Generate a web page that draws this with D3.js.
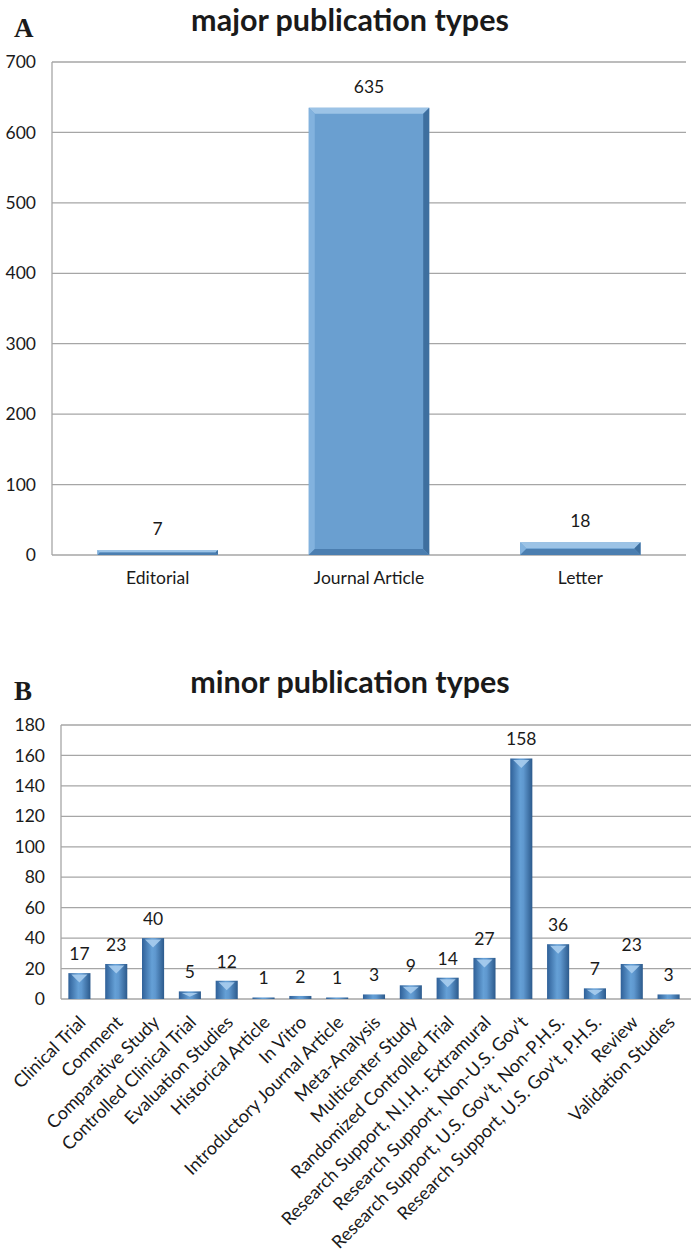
<!DOCTYPE html>
<html>
<head>
<meta charset="utf-8">
<script src="https://cdn.jsdelivr.net/npm/d3@7"></script>
<style>
  body { margin: 0; background: #fff; }
  svg text { font-family: Lato, "Open Sans", sans-serif; fill: #1a1a1a; }
  .panel-letter { font-family: "Liberation Serif", "DejaVu Serif", serif; font-weight: bold; }
  .title { font-weight: bold; }
</style>
</head>
<body>
<div id="vis"></div>
<script>
// panel A data
const majorTypes = ["Editorial", "Journal Article", "Letter"];
const majorCounts = [7, 635, 18];
const majorTicks = [0, 100, 200, 300, 400, 500, 600, 700];

// panel B data
const minorTypes = [
    "Clinical Trial", "Comment", "Comparative Study", "Controlled Clinical Trial",
    "Evaluation Studies", "Historical Article", "In Vitro", "Introductory Journal Article",
    "Meta-Analysis", "Multicenter Study", "Randomized Controlled Trial",
    "Research Support, N.I.H., Extramural", "Research Support, Non-U.S. Gov't",
    "Research Support, U.S. Gov't, Non-P.H.S.", "Research Support, U.S. Gov't, P.H.S.",
    "Review", "Validation Studies"
];
const minorCounts = [17, 23, 40, 5, 12, 1, 2, 1, 3, 9, 14, 27, 158, 36, 7, 23, 3];
const minorTicks = [0, 20, 40, 60, 80, 100, 120, 140, 160, 180];

const W = 691, H = 1257;
const svg = d3.select("#vis").append("svg").attr("width", W).attr("height", H);

const defs = svg.append("defs");
const cyl = defs.append("linearGradient").attr("id", "cyl").attr("x1", 0).attr("x2", 1).attr("y1", 0).attr("y2", 0);
cyl.append("stop").attr("offset", "0%").attr("stop-color", "#2f6098");
cyl.append("stop").attr("offset", "45%").attr("stop-color", "#65a0d6");
cyl.append("stop").attr("offset", "60%").attr("stop-color", "#5f98cf");
cyl.append("stop").attr("offset", "100%").attr("stop-color", "#2c5a8c");

function drawAxes(g, y, ticks, x0, x1) {
    g.selectAll(".grid")
        .data(ticks)
        .join("line")
        .attr("class", "grid")
        .attr("x1", x0).attr("x2", x1)
        .attr("y1", d => y(d)).attr("y2", d => y(d))
        .attr("stroke", "#a6a6a6").attr("stroke-width", 1.3);
    g.append("line")
        .attr("x1", x0).attr("x2", x0)
        .attr("y1", y(ticks[ticks.length - 1])).attr("y2", y(0))
        .attr("stroke", "#a6a6a6").attr("stroke-width", 1.3);
    g.selectAll(".tick-label")
        .data(ticks)
        .join("text")
        .attr("class", "tick-label")
        .attr("x", x0 - 16)
        .attr("y", d => y(d))
        .attr("dy", "0.35em")
        .attr("text-anchor", "end")
        .style("font-size", "17.5px")
        .text(d => d);
}

// ---------- Panel A ----------
{
    const g = svg.append("g");
    const x = d3.scaleBand().domain(majorTypes).range([52, 686]).paddingInner(0.43).paddingOuter(0.215);
    const y = d3.scaleLinear().domain([0, 700]).range([555, 62]);
    const data = majorTypes.map((t, i) => ({ t, v: majorCounts[i] }));

    g.append("text").attr("class", "panel-letter").attr("x", 14).attr("y", 37).style("font-size", "27px").text("A");
    g.append("text").attr("class", "title").attr("x", 350).attr("y", 31).attr("text-anchor", "middle")
        .style("font-size", "30.5px").text("major publication types");

    drawAxes(g, y, majorTicks, 52, 686);

    const bars = g.selectAll(".bar").data(data).join("g").attr("class", "bar");
    bars.append("rect")
        .attr("x", d => x(d.t)).attr("y", d => y(d.v))
        .attr("width", x.bandwidth()).attr("height", d => y(0) - y(d.v))
        .attr("fill", "#6a9fd0");
    // bevel edges
    bars.each(function (d) {
        const b = d3.select(this);
        const x0 = x(d.t), x1 = x0 + x.bandwidth(), y0 = y(d.v), y1 = y(0);
        const e = Math.min(6, (y1 - y0) / 2);
        b.append("polygon").attr("points", [[x0, y0], [x1, y0], [x1 - e, y0 + e], [x0 + e, y0 + e]].join(" "))
            .attr("fill", "#9cc3e6");
        b.append("polygon").attr("points", [[x0, y0], [x0 + e, y0 + e], [x0 + e, y1 - e], [x0, y1]].join(" "))
            .attr("fill", "#82b2de");
        b.append("polygon").attr("points", [[x1, y0], [x1, y1], [x1 - e, y1 - e], [x1 - e, y0 + e]].join(" "))
            .attr("fill", "#3e6f9f");
        b.append("polygon").attr("points", [[x0, y1], [x1, y1], [x1 - e, y1 - e], [x0 + e, y1 - e]].join(" "))
            .attr("fill", "#4b7eb0");
    });

    g.selectAll(".val").data(data).join("text")
        .attr("x", d => x(d.t) + x.bandwidth() / 2)
        .attr("y", d => y(d.v) - 15)
        .attr("text-anchor", "middle")
        .style("font-size", "17.5px")
        .text(d => d.v);

    g.selectAll(".cat").data(majorTypes).join("text")
        .attr("x", d => x(d) + x.bandwidth() / 2)
        .attr("y", 584)
        .attr("text-anchor", "middle")
        .style("font-size", "17.5px")
        .text(d => d);
}

// ---------- Panel B ----------
{
    const g = svg.append("g");
    const x = d3.scaleBand().domain(minorTypes).range([61, 687]).paddingInner(0.4).paddingOuter(0.2);
    const y = d3.scaleLinear().domain([0, 180]).range([999, 725]);
    const data = minorTypes.map((t, i) => ({ t, v: minorCounts[i] }));

    g.append("text").attr("class", "panel-letter").attr("x", 14).attr("y", 700).style("font-size", "27px").text("B");
    g.append("text").attr("class", "title").attr("x", 350).attr("y", 693).attr("text-anchor", "middle")
        .style("font-size", "30.5px").text("minor publication types");

    drawAxes(g, y, minorTicks, 61, 691);

    const bars = g.selectAll(".bar").data(data).join("g").attr("class", "bar");
    bars.append("rect")
        .attr("x", d => x(d.t)).attr("y", d => y(d.v))
        .attr("width", x.bandwidth()).attr("height", d => Math.max(1.5, y(0) - y(d.v)))
        .attr("fill", "url(#cyl)");
    // light chevron near the top of each bar
    bars.each(function (d) {
        const h = y(0) - y(d.v);
        if (h < 6) return;
        const x0 = x(d.t), bw = x.bandwidth(), y0 = y(d.v);
        const c = Math.min(8, h / 2);
        d3.select(this).append("polygon")
            .attr("points", [[x0 + 3, y0 + 1.5], [x0 + bw - 3, y0 + 1.5], [x0 + bw / 2, y0 + c + 1.5]].join(" "))
            .attr("fill", "#a9cdee").attr("opacity", 0.9);
    });

    g.selectAll(".val").data(data).join("text")
        .attr("x", d => x(d.t) + x.bandwidth() / 2)
        .attr("y", d => y(d.v) - 13)
        .attr("text-anchor", "middle")
        .style("font-size", "17.5px")
        .text(d => d.v);

    g.selectAll(".cat").data(minorTypes).join("text")
        .attr("transform", d => `translate(${x(d) + x.bandwidth() / 2 + 3},1019) rotate(-45)`)
        .attr("text-anchor", "end")
        .attr("dy", "0.35em")
        .style("font-size", "18px")
        .text(d => d);
}
</script>
</body>
</html>
